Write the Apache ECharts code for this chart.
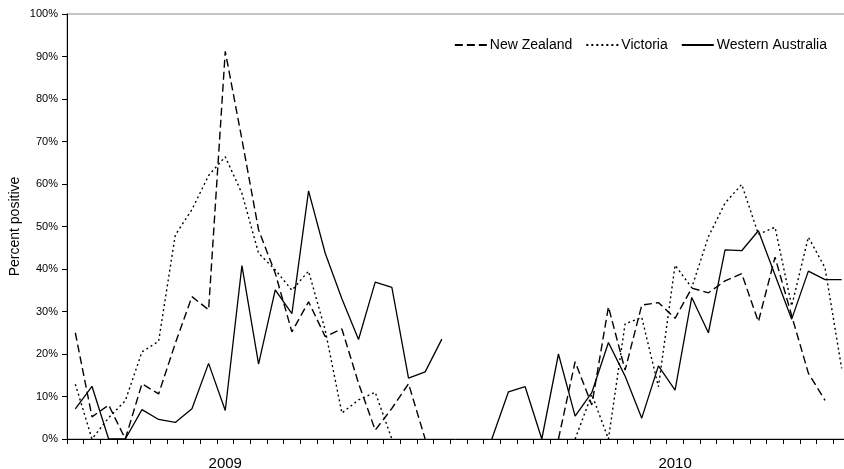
<!DOCTYPE html>
<html>
<head>
<meta charset="utf-8">
<script src="https://cdn.jsdelivr.net/npm/echarts@6/dist/echarts.min.js"></script>
<style>
html,body{margin:0;padding:0;background:#fff;}
#chart{width:844px;height:469px;}
</style>
</head>
<body>
<div id="chart"></div>
<script>
// Weekly categories (47 weeks spanning 2009-2010)
const weeks = ["w1","w2","w3","w4","w5","w6","w7","w8","w9","w10","w11","w12","w13","w14","w15","w16","w17","w18","w19","w20","w21","w22","w23","w24","w25","w26","w27","w28","w29","w30","w31","w32","w33","w34","w35","w36","w37","w38","w39","w40","w41","w42","w43","w44","w45","w46","w47"];
// Year tick labels: category index -> label
const yearLabelIndex = [9, 36];
const yearLabels = ["2009", "2010"];
// Percent positive values (null = no data)
const newZealand = [25, 5.2, 8, 0, 13, 10.6, 22.5, 33.5, 30.4, 91.2, 70.5, 49.2, 39, 25.2, 32.3, 24.1, 25.9, 13.1, 2.1, 7.2, 13, 0, null, null, null, null, null, null, null, 0, 18.2, 8, 31.1, 16.2, 31.5, 32.1, 28.4, 35.5, 34.4, 37.2, 38.9, 27.6, 42.8, 29, 15.5, 9.1, null];
const victoria = [12.9, 0, 5, 9, 20.5, 23, 48, 54, 62, 66.4, 57.8, 43.7, 39.8, 35, 39.5, 25.6, 6.1, 9.2, 11, 0, null, null, null, null, null, null, null, null, null, null, 0, 10.5, 0, 27.1, 28.6, 12.3, 40.9, 35.6, 47.6, 55.5, 59.9, 48.2, 49.8, 31.3, 47.5, 40.3, 16.6];
const westernAustralia = [7.1, 12.4, 0, 0, 6.9, 4.6, 3.9, 7.1, 17.8, 6.7, 40.8, 17.6, 35.1, 29.5, 58.4, 43.7, 33, 23.4, 36.9, 35.7, 14.3, 15.8, 23.5, null, null, 0, 11.1, 12.3, 0, 20, 5.4, 10.9, 22.7, 14.8, 4.9, 17.2, 11.5, 33.3, 25, 44.5, 44.3, 49, 38.6, 28.2, 39.5, 37.5, 37.5];
const yTicks = { min: 0, max: 100, step: 10 };

const font = "'Liberation Sans', Arial, sans-serif";
const chart = echarts.init(document.getElementById('chart'), null, { renderer: 'canvas' });

function lineSeries(name, data, dash, width) {
  return {
    name: name,
    type: 'line',
    data: data,
    symbol: 'none',
    connectNulls: false,
    silent: true,
    animation: false,
    lineStyle: { color: '#000', width: width, type: dash },
    itemStyle: { color: '#000' }
  };
}

chart.setOption({
  animation: false,
  backgroundColor: '#fff',
  textStyle: { fontFamily: font },
  grid: {
    left: 67, top: 14, width: 783, height: 425,
    outerBoundsMode: 'none',
    containLabel: false,
    show: true, borderColor: '#8c8c8c', borderWidth: 1, backgroundColor: 'transparent'
  },
  legend: {
    top: 33, right: 12,
    itemWidth: 32, itemHeight: 10, itemGap: 13,
    itemStyle: { opacity: 0 },
    textStyle: { fontFamily: font, fontSize: 14, color: '#000', padding: [0, 0, 0, -2] },
    data: ['New Zealand', 'Victoria', 'Western Australia']
  },
  xAxis: {
    type: 'category',
    data: weeks,
    boundaryGap: true,
    axisLine: { show: true, onZero: false, lineStyle: { color: '#000', width: 1 } },
    axisTick: { show: true, interval: 0, length: 5, lineStyle: { color: '#000' } },
    axisLabel: {
      interval: 0,
      margin: 17,
      fontFamily: font, fontSize: 15, color: '#000',
      formatter: function (v, idx) {
        const k = yearLabelIndex.indexOf(idx);
        return k >= 0 ? yearLabels[k] : '';
      }
    },
    splitLine: { show: false }
  },
  yAxis: {
    type: 'value',
    min: yTicks.min, max: yTicks.max, interval: yTicks.step,
    name: 'Percent positive',
    nameLocation: 'middle',
    nameGap: 45,
    nameMoveOverlap: false,
    nameRotate: 90,
    nameTextStyle: { fontFamily: font, fontSize: 14, color: '#000' },
    axisLine: { show: true, lineStyle: { color: '#000', width: 1 } },
    axisTick: { show: true, length: 5, lineStyle: { color: '#000' } },
    axisLabel: { formatter: '{value}%', fontFamily: font, fontSize: 11, color: '#000', margin: 9 },
    splitLine: { show: false }
  },
  series: [
    lineSeries('New Zealand', newZealand, [8, 4], 1.4),
    lineSeries('Victoria', victoria, [2, 3], 1.4),
    lineSeries('Western Australia', westernAustralia, 'solid', 1.3)
  ]
});
</script>
</body>
</html>
